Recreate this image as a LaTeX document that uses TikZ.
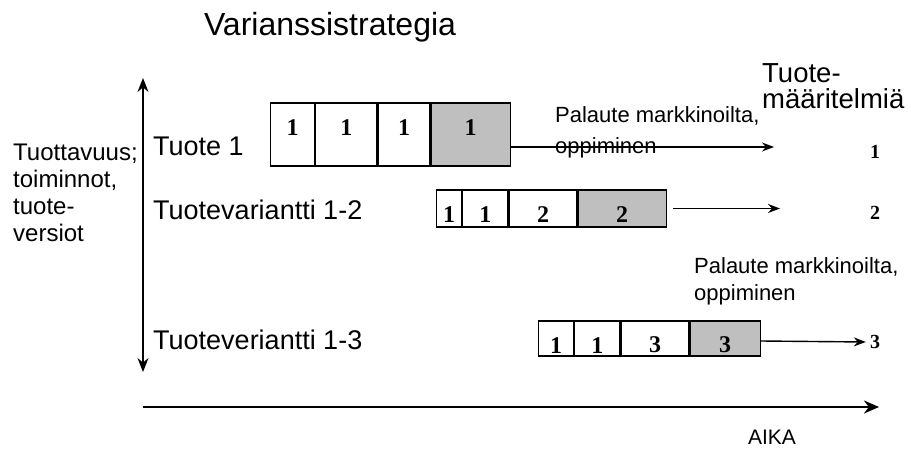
\documentclass[tikz,border=0pt]{standalone}
\usepackage{fontspec}
\setmainfont{Liberation Serif}
\setsansfont{Liberation Sans}
\usetikzlibrary{arrows.meta}

\tikzset{
	cell/.style={draw, line width=1.2pt, inner sep=0pt, anchor=west, font=\fontsize{24}{24}\selectfont\bfseries},
	done/.style={cell, fill=black!25},
	up/.style={text depth=14pt},
	down/.style={text height=#1},
	lbl/.style={anchor=west, inner sep=0pt, font=\fontsize{27}{27}\selectfont\sffamily},
	note/.style={anchor=west, inner sep=0pt, align=left, font=\fontsize{22}{27}\selectfont\sffamily},
	num/.style={inner sep=0pt, font=\fontsize{20}{20}\selectfont\bfseries}
}

\begin{document}
\begin{tikzpicture}[x=1pt, y=-1pt, >={Stealth[length=12pt, width=9pt]}]
				\useasboundingbox (0,0) rectangle (909,449);
				\node[font=\fontsize{32}{32}\selectfont\sffamily] (titel) at (330,27) {Varianssistrategia};
				% axes
				\coordinate (ylo) at (143,372);
				\coordinate (yhi) at (143,78);
				\coordinate (x0) at (143,407);
				\coordinate (x1) at (879,407);
				\draw[{Stealth[length=14pt, width=11pt]}-{Stealth[length=14pt, width=11pt]}, line width=1.4pt] (ylo) -- (yhi);
				\draw[-{Stealth[length=15pt, width=13pt]}, line width=2.6pt] (x0) -- (x1);
				\node[font=\fontsize{21}{21}\selectfont\sffamily] (aika) at (772,437) {AIKA};
				\node[note, font=\fontsize{24}{27}\selectfont\sffamily] (akseli) at (13,193) {Tuottavuus;\\toiminnot,\\tuote-\\versiot};
				\node[note, font=\fontsize{27.5}{26}\selectfont\sffamily] (maar) at (762,86) {Tuote-\\määritelmiä};
				% rows
				\node[lbl] (t1) at (153,146) {Tuote 1};
				\node[lbl] (t2) at (153,210) {Tuotevariantti 1-2};
				\node[lbl] (t3) at (153,340) {Tuoteveriantti 1-3};
				% product 1
				\node[cell, up, minimum width=44, minimum height=63] (c11) at (270,134.5) {1};
				\node[cell, up, minimum width=61, minimum height=63] (c12) at (c11.east) {1};
				\node[cell, up, minimum width=52, minimum height=63] (c13) at (c12.east) {1};
				\node[done, up, minimum width=79, minimum height=63] (c14) at (c13.east) {1};
				% variant 1-2
				\node[cell, down=28pt, minimum width=25, minimum height=37] (c21) at (436,208.5) {1};
				\node[cell, down=28pt, minimum width=45, minimum height=37] (c22) at (c21.east) {1};
				\node[cell, down=28pt, minimum width=68, minimum height=37] (c23) at (c22.east) {2};
				\node[done, down=28pt, minimum width=88, minimum height=37] (c24) at (c23.east) {2};
				% variant 1-3
				\node[cell, down=29pt, minimum width=35, minimum height=35] (c31) at (538,338.5) {1};
				\node[cell, down=29pt, minimum width=45, minimum height=35] (c32) at (c31.east) {1};
				\node[cell, down=29pt, minimum width=68, minimum height=35] (c33) at (c32.east) {3};
				\node[done, down=29pt, minimum width=70, minimum height=35] (c34) at (c33.east) {3};
				% feedback
				\node[note, font=\fontsize{22}{31}\selectfont\sffamily] (pal1) at (555,132) {Palaute markkinoilta,\\oppiminen};
				\node[note] (pal2) at (694,281) {Palaute markkinoilta,\\oppiminen};
				% results
				\node[num] (n1) at (875,152) {1};
				\node[num] (n2) at (875,213) {2};
				\node[num] (n3) at (875,342) {3};
				\coordinate (e1) at (774,147);
				\coordinate (e2) at (780,208.5);
				\draw[->, line width=1.4pt] ([yshift=-12.5pt]c14.east) -- (e1);
				\draw[->, line width=1.4pt] (c24.east) ++(6,0) -- (e2);
				\draw[->, line width=1.4pt] ([yshift=-2.5pt]c34.east) -- ([xshift=-4pt]n3.west);
			\end{tikzpicture}
\end{document}
